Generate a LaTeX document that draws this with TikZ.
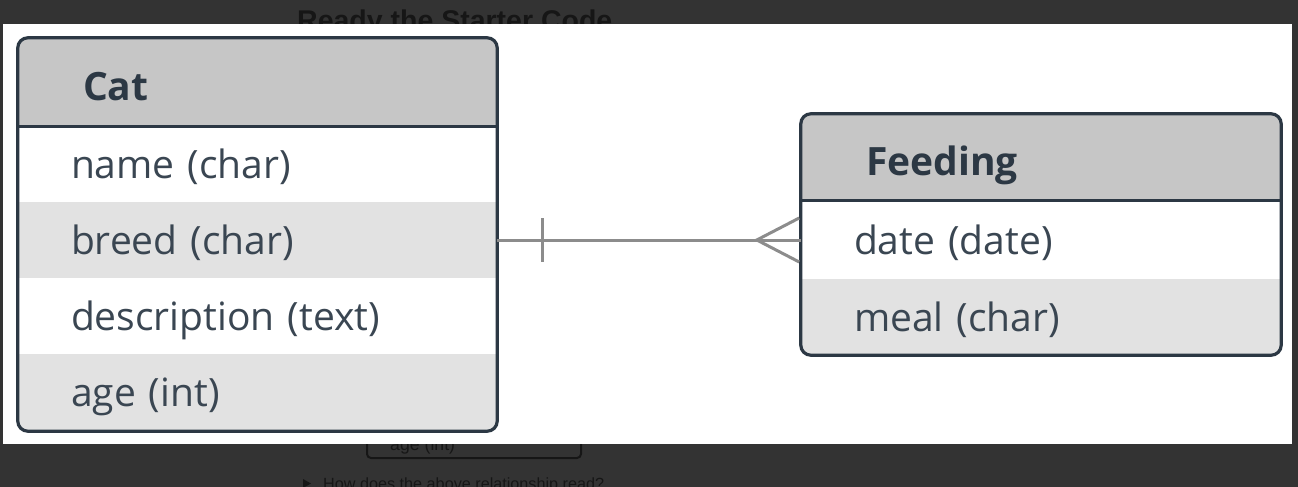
\documentclass[tikz,border=0pt]{standalone}
\usepackage{fontspec}
\setmainfont{Open Sans}
\newfontfamily\webfont{Liberation Sans}
\usetikzlibrary{calc}
\definecolor{pagebg}{HTML}{333333}
\definecolor{pagefg}{HTML}{161616}
\definecolor{edgeclr}{HTML}{2C3844}
\definecolor{hdrfill}{HTML}{C6C6C6}
\definecolor{altfill}{HTML}{E2E2E2}
\definecolor{txtclr}{HTML}{3A4652}
\definecolor{relclr}{HTML}{8C8C8C}
\tikzset{
  hdr/.style={minimum height=#1, inner xsep=65pt, inner ysep=0pt, align=left, fill=hdrfill,
    text height=36pt, text depth=0pt,
    text=edgeclr, font=\fontsize{39}{47}\selectfont\bfseries},
  fieldrow/.style={minimum height=#1, inner xsep=53pt, inner ysep=0pt, align=left,
    text height=37.5pt, text depth=9.4pt,
    text=txtclr, font=\fontsize{39}{47}\selectfont},
  catw/.style={minimum width=479pt, text width=479pt-2*\pgfkeysvalueof{/pgf/inner xsep}},
  feedw/.style={minimum width=480pt, text width=480pt-2*\pgfkeysvalueof{/pgf/inner xsep}},
  boxline/.style={draw=edgeclr, line width=3.2pt, rounded corners=10pt},
  sepline/.style={draw=edgeclr, line width=3.2pt},
  rel/.style={draw=relclr, line width=3pt},
  webtxt/.style={text=pagefg, inner sep=0pt, anchor=base west}
}
\begin{document}
\begin{tikzpicture}[x=1pt,y=-1pt]
\useasboundingbox (0,0) rectangle (1298,487);
\fill[pagebg] (0,0) rectangle (1298,487);
% page behind the diagram
\node[webtxt, font=\webfont\bfseries\fontsize{28.5}{34}\selectfont] (pagetitle) at (297,31) {Ready the Starter Code};
\draw[draw=pagefg, line width=2pt, rounded corners=4pt] (367,400) rectangle (581,458);
\node[webtxt, font=\webfont\fontsize{17.7}{21}\selectfont] (pageage) at (390,450) {age (int)};
\node[webtxt, font=\webfont\fontsize{16.2}{20}\selectfont] (pageq) at (323,489) {How does the above relationship read?};
\fill[pagefg] (303,479) -- (311,483.5) -- (303,488) -- cycle;
% white sheet
\fill[white] (3,24) rectangle (1292,444);
% Cat table
\begin{scope}
  \clip[rounded corners=10pt] (18,38) rectangle (497,431);
  \node[hdr=88pt, catw] (cathead) at (257.5,82) {Cat};
  \node[fieldrow=76pt, catw] (catname) at (257.5,164) {name (char)};
  \node[fieldrow=76pt, catw, fill=altfill] (catbreed) at (257.5,240) {breed (char)};
  \node[fieldrow=76pt, catw] (catdesc) at (257.5,316) {description (text)};
  \node[fieldrow=77pt, catw, fill=altfill] (catage) at (257.5,392.5) {age (int)};
\end{scope}
\draw[sepline] (cathead.south west) -- (cathead.south east);
\draw[boxline] (cathead.north west) rectangle (catage.south east);
% Feeding table
\begin{scope}
  \clip[rounded corners=10pt] (801,114) rectangle (1281,355);
  \node[hdr=86pt, feedw] (feedhead) at (1041,157) {Feeding};
  \node[fieldrow=78pt, feedw] (feeddate) at (1041,240) {date (date)};
  \node[fieldrow=76pt, feedw, fill=altfill] (feedmeal) at (1041,317) {meal (char)};
\end{scope}
\draw[sepline] (feedhead.south west) -- (feedhead.south east);
\draw[boxline] (feedhead.north west) rectangle (feedmeal.south east);
% relationship: one to many
\draw[rel] (catbreed.east) -- (feeddate.west);
\draw[rel] ($(catbreed.east)+(45,-22)$) -- ($(catbreed.east)+(45,22)$);
\draw[rel] ($(feeddate.west)+(-1.6,-22)$) -- ($(feeddate.west)+(-44,0)$) -- ($(feeddate.west)+(-1.6,22)$);
\end{tikzpicture}
\end{document}
